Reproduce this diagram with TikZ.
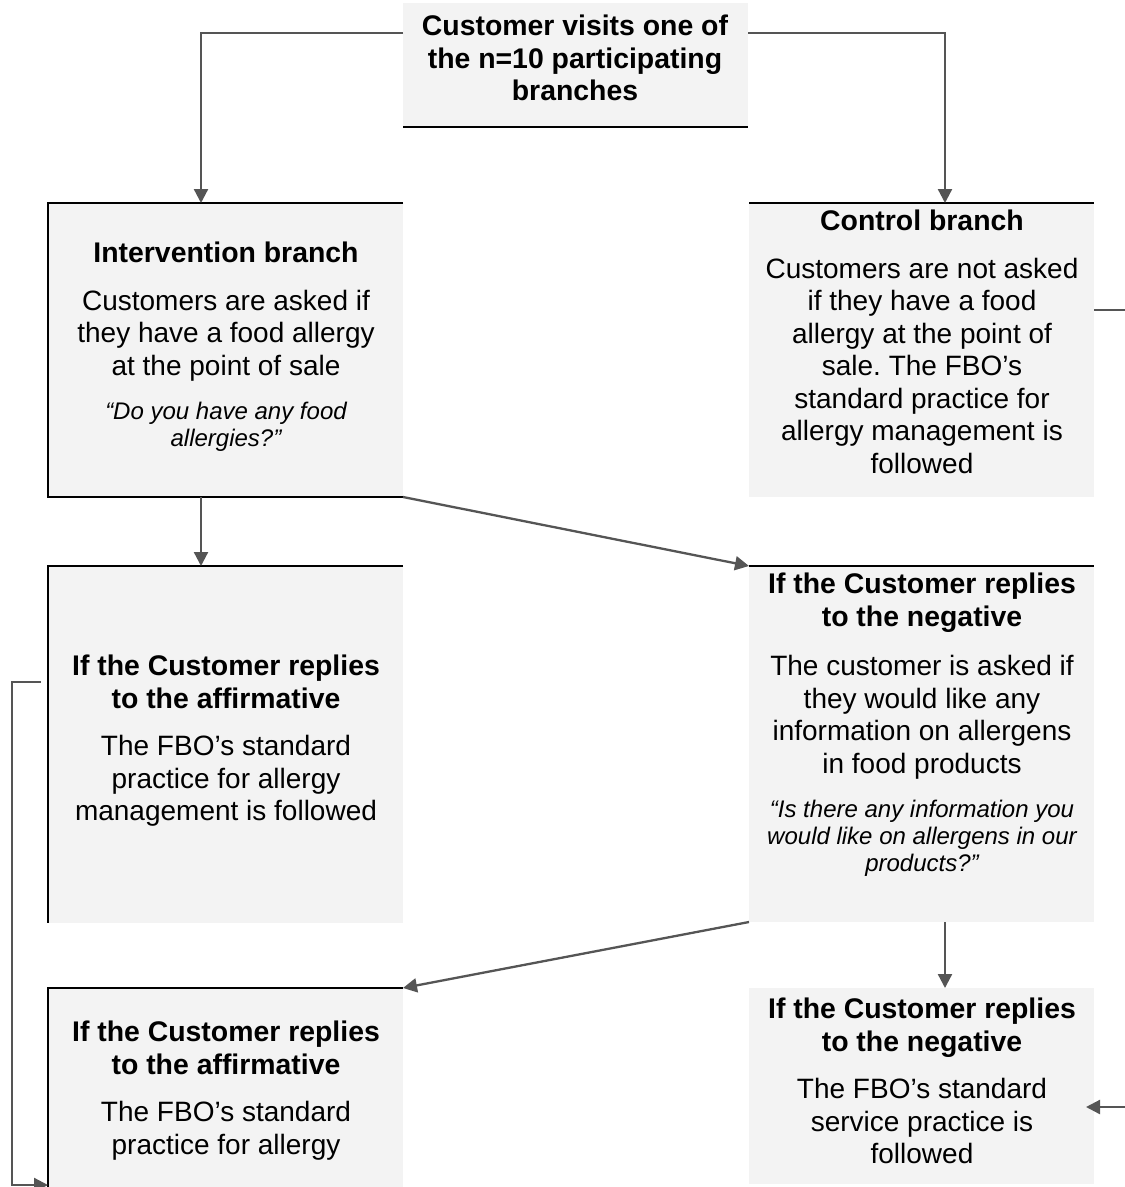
\documentclass[tikz,border=0pt]{standalone}
\usepackage{fontspec}
\setmainfont{Liberation Sans}
\frenchspacing
\usetikzlibrary{arrows.meta,calc}
\definecolor{boxfill}{HTML}{F3F3F3}
\definecolor{conncol}{HTML}{555555}
\begin{document}
\begin{tikzpicture}[x=1pt,y=-1pt,
  box/.style={fill=boxfill, draw=none, inner sep=0pt, outer sep=0pt, anchor=north west},
  edgeline/.style={draw=black, line width=2.5pt},
  conn/.style={draw=conncol, line width=2.3pt, -{Triangle[length=14pt,width=14pt]}},
  ttl/.style={font=\bfseries\fontsize{28.4}{32.5}\selectfont, align=center, anchor=north, inner sep=0pt},
  bdy/.style={font=\fontsize{28}{32.5}\selectfont, align=center, anchor=north, inner sep=0pt},
  itl/.style={font=\itshape\fontsize{24}{27}\selectfont, align=center, anchor=north, inner sep=0pt}]
\useasboundingbox (0,0) rectangle (1125,1187);
\clip (0,0) rectangle (1125,1187);

% boxes
\node[box, minimum width=345pt, minimum height=124pt] (top) at (403,3) {};
\node[box, minimum width=355pt, minimum height=294pt] (int) at (48,203) {};
\node[box, minimum width=345pt, minimum height=294pt] (ctrl) at (749,203) {};
\node[box, minimum width=355pt, minimum height=357pt] (a1) at (48,566) {};
\node[box, minimum width=345pt, minimum height=356pt] (n1) at (749,566) {};
\node[box, minimum width=355pt, minimum height=215pt] (a2) at (48,988) {};
\node[box, minimum width=345pt, minimum height=196pt] (n2) at (749,988) {};

% borders
\draw[edgeline] (top.south west) -- (top.south east);
\draw[edgeline] (int.north east) -- (int.north west) -- (int.south west) -- (int.south east);
\draw[edgeline] (ctrl.north west) -- (ctrl.north east);
\draw[edgeline] (a1.north east) -- (a1.north west) -- (a1.south west);
\draw[edgeline] (n1.north west) -- (n1.north east);
\draw[edgeline] (a2.north east) -- (a2.north west) -- (a2.south west);

% texts
\node[ttl] (topT) at (575,15) {Customer visits one of\\the n=10 participating\\branches};

\node[ttl] (intT) at (226,242) {Intervention branch};
\node[bdy] (intB) at (226,290) {Customers are asked if\\they have a food allergy\\at the point of sale};
\node[itl] (intQ) at (226,401.5) {“Do you have any food\\allergies?”};

\node[ttl] (ctrlT) at (922,210) {Control branch};
\node[bdy] (ctrlB) at (922,258) {Customers are not asked\\if they have a food\\allergy at the point of\\sale. The FBO’s\\standard practice for\\allergy management is\\followed};

\node[ttl] (a1T) at (226,655) {If the Customer replies\\to the affirmative};
\node[bdy] (a1B) at (226,735) {The FBO’s standard\\practice for allergy\\management is followed};

\node[ttl] (n1T) at (922,573) {If the Customer replies\\to the negative};
\node[bdy] (n1B) at (922,655) {The customer is asked if\\they would like any\\information on allergens\\in food products};
\node[itl] (n1Q) at (922,799.5) {“Is there any information you\\would like on allergens in our\\products?”};

\node[ttl] (a2T) at (226,1021) {If the Customer replies\\to the affirmative};
\node[bdy] (a2B) at (226,1101) {The FBO’s standard\\practice for allergy};

\node[ttl] (n2T) at (922,998) {If the Customer replies\\to the negative};
\node[bdy] (n2B) at (922,1078) {The FBO’s standard\\service practice is\\followed};

% connectors
\coordinate (lx) at (201,0);
\coordinate (rx) at (945,0);
\coordinate (lloop) at (12,0);
\coordinate (rloop) at (1145,0);
\coordinate (topL) at ($(top.north west)+(0,30)$);
\coordinate (topR) at ($(top.north east)+(0,30)$);
\coordinate (a1out) at ($(a1.north west)+(-7,116)$);
\coordinate (a2in) at ($(a2.north west)+(0,197)$);
\coordinate (cout) at ($(ctrl.north east)+(0,107)$);
\coordinate (n2in) at ($(n2.north east)+(-8,119)$);

\draw[conn] (topL) -| (int.north -| lx);
\draw[conn] (topR) -| (ctrl.north -| rx);
\draw[conn] (int.south -| lx) -- (a1.north -| lx);
\draw[conn] (int.south east) -- (n1.north west);
\draw[conn] (n1.south west) -- (a2.north east);
\draw[conn] (n1.south -| rx) -- (n2.north -| rx);
\draw[conn] (a1out) -- (a1out -| lloop) |- (a2in);
\draw[conn] (cout) -- (cout -| rloop) |- (n2in);
\end{tikzpicture}
\end{document}
